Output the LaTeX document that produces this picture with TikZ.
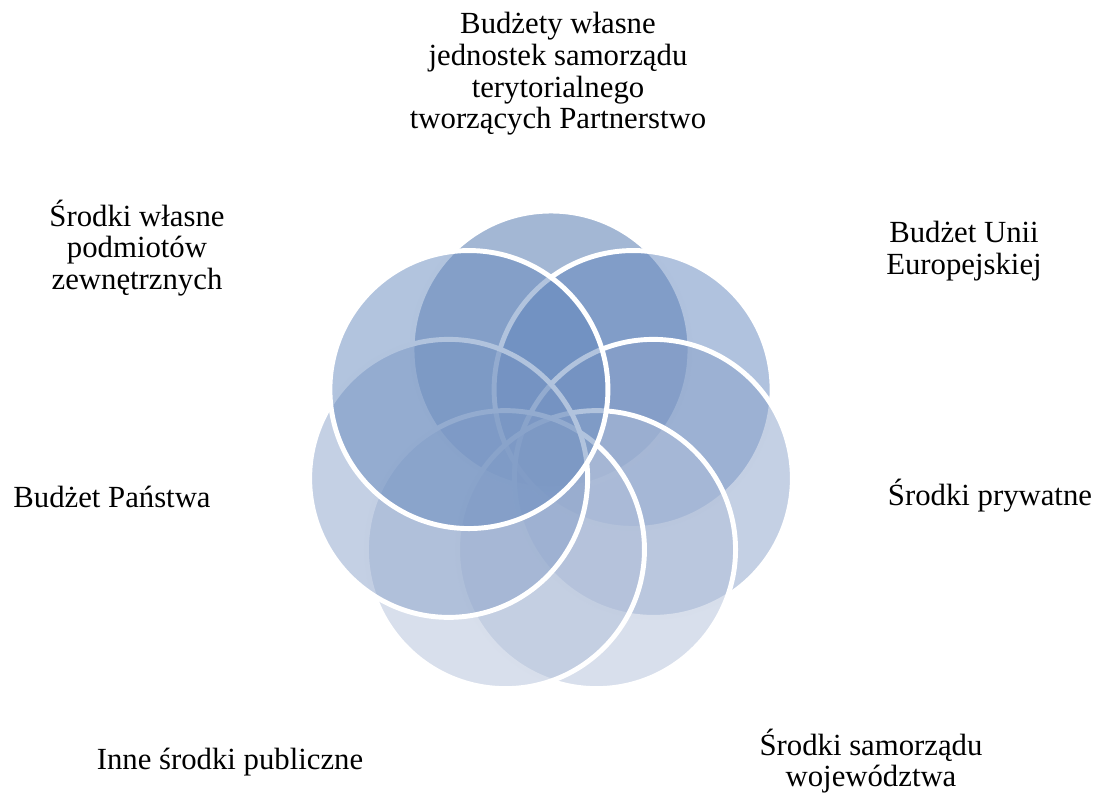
\documentclass[tikz,border=0pt]{standalone}
\usepackage{fontspec}
\setmainfont{Liberation Serif}
\usepackage{xcolor}
\usepackage{tikz}
\definecolor{ringA}{RGB}{71,111,169}
\definecolor{ringB}{RGB}{97,133,189}
\definecolor{ringC}{RGB}{137,161,201}
\definecolor{ringD}{RGB}{177,191,217}
\definecolor{ringE}{RGB}{177,191,217}
\definecolor{ringF}{RGB}{137,161,201}
\definecolor{ringG}{RGB}{101,137,189}
\tikzstyle{ring} = [draw=white, line width=2.8pt, fill opacity=0.5]
\tikzstyle{fundtext} = [align=center, inner sep=0pt, font=\fontsize{17.5}{18}\selectfont]

\begin{document}
\begin{tikzpicture}[x=0.02cm, y=0.02cm]
        \useasboundingbox (0,0) rectangle (1098,-792);
        \coordinate (ctr) at (551,-455);

        \draw[ring, fill=ringA] ([shift={(90:105)}]ctr) circle (139);
        \draw[ring, fill=ringB] ([shift={(38.57:105)}]ctr) circle (139);
        \draw[ring, fill=ringC] ([shift={(-12.86:105)}]ctr) circle (139);
        \draw[ring, fill=ringD] ([shift={(-64.29:105)}]ctr) circle (139);
        \draw[ring, fill=ringE] ([shift={(-115.71:105)}]ctr) circle (139);
        \draw[ring, fill=ringF] ([shift={(-167.14:105)}]ctr) circle (139);
        \draw[ring, fill=ringG] ([shift={(141.43:105)}]ctr) circle (139);

        \node[fundtext] at (558,-74) (jst) {Budżety własne\\jednostek samorządu\\terytorialnego\\tworzących Partnerstwo};
        \node[fundtext] at (964,-251) (ue) {Budżet Unii\\Europejskiej};
        \node[fundtext] at (990,-496) (pryw) {Środki prywatne};
        \node[fundtext] at (871,-761) (woj) {Środki samorządu\\województwa};
        \node[fundtext] at (230,-762) (inne) {Inne środki publiczne};
        \node[fundtext] at (112,-497) (panstwo) {Budżet Państwa};
        \node[fundtext] at (137,-248) (zewn) {Środki własne\\podmiotów\\zewnętrznych};

    \end{tikzpicture}
\end{document}
